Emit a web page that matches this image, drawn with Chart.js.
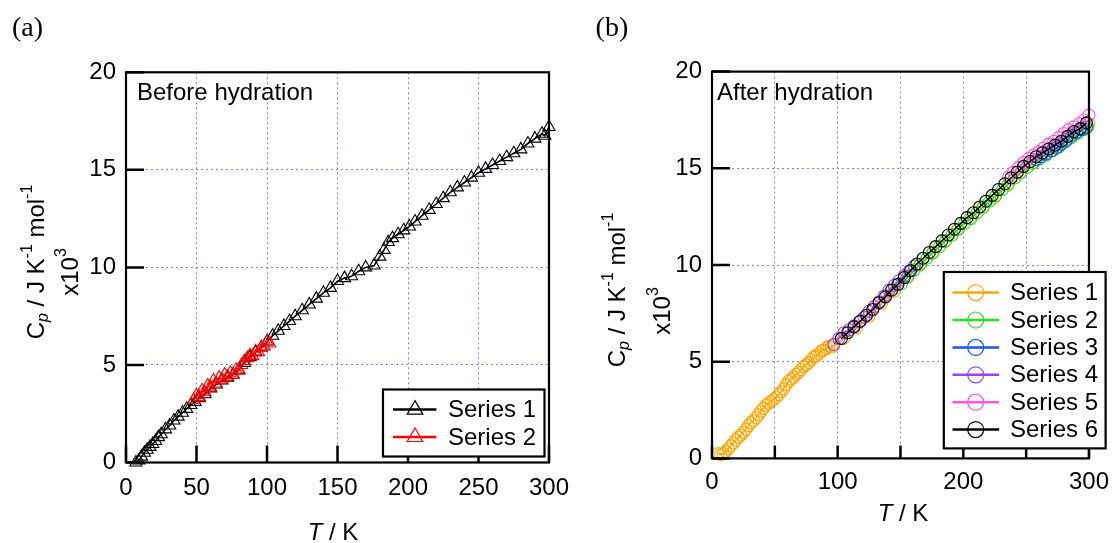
<!DOCTYPE html>
<html>
<head>
<meta charset="utf-8">
<script src="https://cdn.jsdelivr.net/npm/chart.js@4.4.0/dist/chart.umd.min.js"></script>
<style>
  body { margin: 0; background: #fff; }
  #wrap { position: relative; width: 1119px; height: 543px; overflow: hidden; }
  canvas { position: absolute; top: 0; }
  #chartA { left: 0; }
  #chartB { left: 560px; }
</style>
</head>
<body>
<div id="wrap">
  <canvas id="chartA" width="600" height="543"></canvas>
  <canvas id="chartB" width="559" height="543"></canvas>
</div>
<script>
// axis ticks
const yTicks = [0, 5, 10, 15, 20];
const xTicksA = [0, 50, 100, 150, 200, 250, 300];
const xLabelsB = [0, 100, 200, 300];

// (a) before hydration, Cp in units of 10^3 J K-1 mol-1
const aS1_T = [7,9,11,13,15,17,19,21,23,25,28,31,34,37,40,43,46,49,52,56,60,64,68,72,76,80,84,88,92,96,100,104,108,112,116,120,125,130,135,140,145,150,155,160,165,170,176,180,183,186,189,193,197,201,205,210,215,220,225,230,235,240,245,250,255,260,265,270,275,280,285,290,295,297,300];
const aS1_Cp = [0.0,0.1,0.3,0.5,0.65,0.8,0.95,1.1,1.3,1.45,1.7,1.9,2.15,2.35,2.55,2.75,2.95,3.1,3.3,3.5,3.8,4.0,4.2,4.35,4.5,4.75,5.1,5.4,5.65,5.9,6.2,6.5,6.75,7.0,7.25,7.5,7.8,8.1,8.4,8.7,8.95,9.3,9.45,9.55,9.8,10.0,10.1,10.55,10.9,11.3,11.5,11.7,11.9,12.1,12.35,12.65,12.95,13.25,13.55,13.85,14.1,14.35,14.6,14.85,15.05,15.25,15.45,15.65,15.85,16.05,16.35,16.6,16.85,16.75,17.2];
const aS2_T = [48,50,52,54,56,58,60,62,64,66,68,70,72,74,76,78,80,82,84,86,88,90,92,94,96,98,100,102];
const aS2_Cp = [3.2,3.45,3.35,3.7,3.6,3.95,3.85,4.2,4.05,4.35,4.25,4.5,4.4,4.6,4.5,4.75,4.7,5.0,5.2,5.35,5.5,5.45,5.7,5.65,5.9,5.95,6.2,6.1];

// (b) after hydration
const bS1_T = [5,7,9,11,13,15,17,19,21,23,25,27,29,31,33,35,37,39,41,43,45,47,49,51,53,55,57,59,61,63,65,67,69,71,73,75,77,79,81,83,85,87,89,91,93,95,97,105,115,125,135,145,155,165,175,185,195,205,215,225,235,245,255,265,275,285,295,300];
const bS1_Cp = [0.25,0.2,0.25,0.35,0.5,0.65,0.8,0.95,1.1,1.2,1.35,1.5,1.7,1.85,1.95,2.1,2.25,2.45,2.6,2.75,2.85,2.95,3.05,3.15,3.3,3.45,3.6,3.8,4.0,4.1,4.2,4.35,4.45,4.6,4.75,4.85,4.95,5.1,5.25,5.3,5.4,5.55,5.6,5.7,5.8,5.75,5.85,6.2,6.75,7.35,8.0,8.65,9.35,10.0,10.6,11.2,11.8,12.4,12.95,13.5,14.1,14.75,15.25,15.7,16.1,16.55,17.0,17.3];
const bS2_T = [151,156,161,166,171,176,181,186,191,196,201,206,211,216,221,226,231,236,241,246,251,256,261,266,271,276,281,286,291,296,299];
const bS2_Cp = [9.05,9.4,9.75,10.05,10.35,10.65,10.95,11.25,11.55,11.85,12.15,12.4,12.7,13.0,13.3,13.6,13.9,14.2,14.5,14.8,15.05,15.3,15.5,15.7,15.9,16.1,16.35,16.6,16.8,17.0,17.15];
const bS3_T = [258,262,266,270,274,278,282,286,290,294,298];
const bS3_Cp = [15.45,15.6,15.75,15.9,16.05,16.25,16.45,16.7,16.85,17.0,17.1];
const bS4_T = [97,101,105,109,113,117,121,125,129,133,137,141,145,149,153,157,161];
const bS4_Cp = [5.9,6.2,6.5,6.65,6.85,7.05,7.3,7.6,7.85,8.1,8.4,8.7,8.95,9.2,9.45,9.7,9.95];
const bS5_T = [236,240,244,248,252,256,260,264,268,272,276,280,284,288,292,296,300];
const bS5_Cp = [14.55,14.8,15.05,15.3,15.5,15.7,15.85,16.05,16.25,16.4,16.6,16.8,17.0,17.15,17.3,17.5,17.75];
const bS6_T = [103,108,113,118,123,128,133,138,143,148,153,158,163,168,173,178,183,188,193,198,203,208,213,218,223,228,233,238,243,248,253,258,263,268,273,278,283,288,293,298];
const bS6_Cp = [6.2,6.5,6.8,7.1,7.4,7.7,8.05,8.35,8.7,9.0,9.35,9.7,10.05,10.35,10.65,10.95,11.25,11.55,11.85,12.15,12.45,12.7,13.0,13.3,13.6,13.9,14.2,14.5,14.8,15.1,15.35,15.6,15.8,16.0,16.2,16.4,16.65,16.9,17.05,17.35];

const FONT = '"Liberation Sans", Arial, sans-serif';
const GRID = 'rgb(125,125,255)';

const pts = (xs, ys) => xs.map((x, i) => ({ x: x, y: ys[i] }));

function series(label, xs, ys, color, style, r, order) {
  return {
    label: label, data: pts(xs, ys), showLine: true, order: order,
    borderColor: color, borderWidth: 1.6, backgroundColor: 'rgba(0,0,0,0)',
    pointStyle: style, pointRadius: r, pointBorderWidth: 1.1,
    pointBorderColor: color, pointBackgroundColor: 'rgba(0,0,0,0)',
    clip: false
  };
}

function richText(ctx, parts, cx, cy, rot) {
  ctx.save();
  ctx.translate(cx, cy);
  if (rot) ctx.rotate(-Math.PI / 2);
  ctx.textBaseline = 'middle';
  ctx.fillStyle = '#000';
  let w = 0;
  parts.forEach(p => {
    ctx.font = (p.i ? 'italic ' : '') + p.s + 'px ' + FONT;
    p.w = ctx.measureText(p.t).width;
    w += p.w;
  });
  let x = -w / 2;
  parts.forEach(p => {
    ctx.font = (p.i ? 'italic ' : '') + p.s + 'px ' + FONT;
    ctx.fillText(p.t, x, p.dy || 0);
    x += p.w;
  });
  ctx.restore();
}

const yTitle1 = [{t:'C', s:24}, {t:'p', s:16, i:true, dy:6}, {t:' / J K', s:24}, {t:'-1', s:16, dy:-10}, {t:' mol', s:24}, {t:'-1', s:16, dy:-10}];
const yTitle2 = [{t:'x10', s:24}, {t:'3', s:16, dy:-10}];
const xTitle = [{t:'T', s:24, i:true}, {t:' / K', s:24}];

const decor = {
  id: 'decor',
  afterDraw(chart, args, o) {
    const { ctx, chartArea: a, scales } = chart;
    ctx.save();
    ctx.strokeStyle = '#000';
    ctx.lineWidth = 2.2;
    ctx.strokeRect(a.left, a.top, a.right - a.left, a.bottom - a.top);
    ctx.lineWidth = 2.5;
    ctx.beginPath();
    scales.x.ticks.forEach(t => {
      const px = scales.x.getPixelForValue(t.value);
      ctx.moveTo(px, a.bottom); ctx.lineTo(px, a.bottom - o.xTickLen);
    });
    scales.y.ticks.forEach(t => {
      const py = scales.y.getPixelForValue(t.value);
      ctx.moveTo(a.left, py); ctx.lineTo(a.left + o.yTickLen, py);
    });
    ctx.stroke();

    ctx.fillStyle = '#000';
    ctx.textBaseline = 'alphabetic';
    ctx.font = '28px "Liberation Serif", "Times New Roman", serif';
    ctx.fillText(o.panel.text, o.panel.x, o.panel.y);
    ctx.font = '24px ' + FONT;
    ctx.fillText(o.note.text, o.note.x, o.note.y);

    richText(ctx, yTitle1, o.yT1[0], o.yT1[1], true);
    richText(ctx, yTitle2, o.yT2[0], o.yT2[1], true);
    richText(ctx, xTitle, o.xT[0], o.xT[1], false);

    const L = o.legend;
    ctx.fillStyle = '#fff';
    ctx.fillRect(L.x, L.y, L.w, L.h);
    ctx.lineWidth = 2.2;
    ctx.strokeStyle = '#000';
    ctx.strokeRect(L.x, L.y, L.w, L.h);
    chart.data.datasets.forEach((ds, i) => {
      const y = L.row0 + i * L.gap;
      ctx.strokeStyle = ds.borderColor;
      ctx.lineWidth = 2.5;
      ctx.beginPath(); ctx.moveTo(L.l0, y); ctx.lineTo(L.l1, y); ctx.stroke();
      ctx.fillStyle = 'rgba(0,0,0,0)';
      ctx.lineWidth = 1.2;
      Chart.helpers.drawPoint(ctx, { pointStyle: ds.pointStyle, radius: L.r, rotation: 0, borderWidth: 1.2 }, L.mx, y);
      ctx.fillStyle = '#000';
      ctx.font = '24px ' + FONT;
      ctx.textBaseline = 'middle';
      ctx.fillText(ds.label, L.tx, y + 1);
    });
    ctx.restore();
  }
};

function makeChart(id, datasets, labelEvery, pad, decorOpts, xPad) {
  const tickFont = { family: FONT, size: 24 };
  return new Chart(document.getElementById(id), {
    type: 'scatter',
    data: { datasets: datasets },
    options: {
      responsive: false, animation: false, devicePixelRatio: 1, events: [],
      layout: { padding: pad },
      plugins: { legend: { display: false }, tooltip: { enabled: false }, decor: decorOpts },
      scales: {
        x: {
          type: 'linear', min: 0, max: 300,
          afterFit: s => { s.height = 40; },
          afterBuildTicks: s => { s.ticks = xTicksA.map(v => ({ value: v })); },
          ticks: {
            autoSkip: false, maxRotation: 0, padding: xPad, color: '#000', font: tickFont,
            callback: v => (v % labelEvery === 0 ? String(v) : '')
          },
          grid: { color: GRID, lineWidth: 1, drawTicks: false },
          border: { display: false, dash: [2, 3] }
        },
        y: {
          min: 0, max: 20,
          afterFit: s => { s.width = 50; },
          afterBuildTicks: s => { s.ticks = yTicks.map(v => ({ value: v })); },
          ticks: { padding: 10, color: '#000', font: tickFont },
          grid: { color: GRID, lineWidth: 1, drawTicks: false },
          border: { display: false, dash: [2, 3] }
        }
      }
    },
    plugins: [decor]
  });
}

makeChart('chartA', [
  series('Series 1', aS1_T, aS1_Cp, '#000000', 'triangle', 7, 1),
  series('Series 2', aS2_T, aS2_Cp, '#ff0000', 'triangle', 7, 0)
], 50, { left: 76, right: 51, top: 72.3, bottom: 40.5 }, {
  xTickLen: 17, yTickLen: 18,
  panel: { text: '(a)', x: 12, y: 36 },
  note: { text: 'Before hydration', x: 137, y: 100 },
  yT1: [37.5, 262], yT2: [71.4, 272], xT: [333, 533],
  legend: { x: 383, y: 389.5, w: 161.5, h: 67, row0: 409.6, gap: 27.4, l0: 393, l1: 436.4, mx: 415, tx: 448, r: 9 }
}, 11);

makeChart('chartB', [
  series('Series 1', bS1_T, bS1_Cp, '#ffa500', 'circle', 6, 5),
  series('Series 2', bS2_T, bS2_Cp, '#22e622', 'circle', 6, 4),
  series('Series 3', bS3_T, bS3_Cp, '#1155ff', 'circle', 6, 3),
  series('Series 4', bS4_T, bS4_Cp, '#9944ee', 'circle', 6, 2),
  series('Series 5', bS5_T, bS5_Cp, '#ff55dd', 'circle', 6, 1),
  series('Series 6', bS6_T, bS6_Cp, '#000000', 'circle', 6, 0)
], 100, { left: 102, right: 22, top: 71.6, bottom: 44.6 }, {
  xTickLen: 13, yTickLen: 18,
  panel: { text: '(b)', x: 35.6, y: 36 },
  note: { text: 'After hydration', x: 157, y: 99.5 },
  yT1: [58.8, 290], yT2: [103.4, 311], xT: [343, 514],
  legend: { x: 383.8, y: 272, w: 161.8, h: 176.4, row0: 292.6, gap: 27.4, l0: 392.5, l1: 439.2, mx: 415.7, tx: 450, r: 8 }
}, 10);
</script>
</body>
</html>
